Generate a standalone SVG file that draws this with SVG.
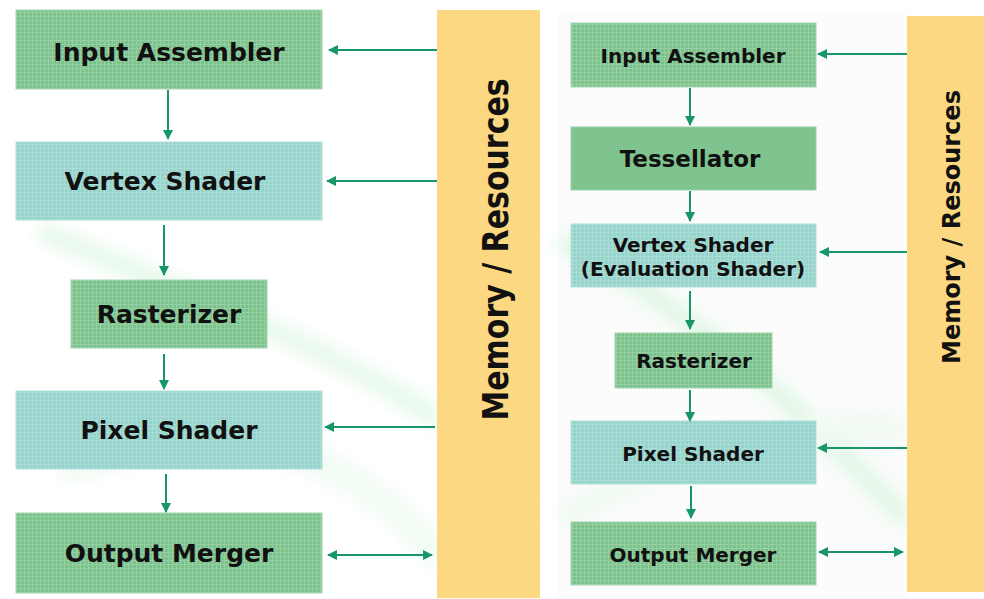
<svg xmlns="http://www.w3.org/2000/svg" width="984" height="599" viewBox="0 0 984 599">
<defs>
<pattern id="gridG" width="4" height="4" patternUnits="userSpaceOnUse">
<rect width="4" height="4" fill="#7cc28d"/>
<path d="M0 0.5H4M0.5 0V4" stroke="#95cfa3" stroke-width="1"/>
</pattern>
<pattern id="gridT" width="4" height="4" patternUnits="userSpaceOnUse">
<rect width="4" height="4" fill="#95d3cc"/>
<path d="M0 0.5H4M0.5 0V4" stroke="#aadcd6" stroke-width="1"/>
</pattern>
<marker id="ah" viewBox="0 0 10 10" refX="9" refY="5" markerWidth="5" markerHeight="5" orient="auto-start-reverse" markerUnits="strokeWidth">
<path d="M0 0L10 5L0 10z" fill="#17966a"/>
</marker>
<filter id="blur" x="-20%" y="-20%" width="140%" height="140%"><feGaussianBlur stdDeviation="8"/></filter>
</defs>
<style>
.g{fill:url(#gridG);stroke:#a3d6b0;stroke-width:1}
.t{fill:url(#gridT);stroke:#b3e0db;stroke-width:1}
.s{fill:#7fc38e;stroke:#9ad0a7;stroke-width:1}
.m{fill:#fdd883}
.lbl{font-family:"DejaVu Sans",Verdana,sans-serif;font-weight:bold;fill:#111;text-anchor:middle}
.c{stroke:#17966a;stroke-width:2;fill:none;marker-end:url(#ah)}
.b{marker-start:url(#ah)}
</style>
<rect width="984" height="599" fill="#ffffff"/>
<rect x="558" y="12" width="350" height="587" fill="#fbfcfb"/>
<g opacity="0.5" filter="url(#blur)">
<path d="M40 230 C150 280 300 330 440 420" stroke="#cdf3d6" stroke-width="20" fill="none"/>
<path d="M60 470 C200 430 330 420 440 560" stroke="#e3f8e8" stroke-width="28" fill="none"/>
<path d="M560 240 C650 290 760 360 906 520" stroke="#c8f2d2" stroke-width="20" fill="none"/>
<path d="M560 520 C680 450 800 420 906 430" stroke="#e5f8e9" stroke-width="24" fill="none"/>
</g>

<g id="mem-left"><rect class="m" x="437" y="10" width="103" height="588"/>
<text class="lbl" transform="translate(508,249.5) rotate(-90) scale(1,1.18)" font-size="30">Memory / Resources</text></g>
<g id="mem-right"><rect class="m" x="907" y="16" width="77" height="576"/>
<text class="lbl" transform="translate(960,227) rotate(-90)" font-size="24">Memory / Resources</text></g>

<g id="l-ia"><rect class="g" x="16" y="10" width="306" height="79"/><text class="lbl" x="169" y="61" font-size="25">Input Assembler</text></g>
<g id="l-vs"><rect class="t" x="16" y="142" width="306" height="78"/><text class="lbl" x="165" y="190" font-size="25">Vertex Shader</text></g>
<g id="l-ra"><rect class="g" x="71" y="280" width="196" height="68"/><text class="lbl" x="169" y="323" font-size="25">Rasterizer</text></g>
<g id="l-ps"><rect class="t" x="16" y="391" width="306" height="78"/><text class="lbl" x="169" y="439" font-size="25">Pixel Shader</text></g>
<g id="l-om"><rect class="g" x="16" y="513" width="306" height="80"/><text class="lbl" x="169" y="562" font-size="25">Output Merger</text></g>

<g id="r-ia"><rect class="g" x="571" y="23" width="245" height="64"/><text class="lbl" x="693" y="63" font-size="20">Input Assembler</text></g>
<g id="r-te"><rect class="s" x="571" y="127" width="245" height="63"/><text class="lbl" x="690" y="167" font-size="23">Tessellator</text></g>
<g id="r-vs"><rect class="t" x="571" y="224" width="245" height="63"/><text class="lbl" x="693" y="252" font-size="20">Vertex Shader</text><text class="lbl" x="693" y="276" font-size="20">(Evaluation Shader)</text></g>
<g id="r-ra"><rect class="g" x="615" y="333" width="157" height="55"/><text class="lbl" x="694" y="368" font-size="20">Rasterizer</text></g>
<g id="r-ps"><rect class="t" x="571" y="421" width="245" height="63"/><text class="lbl" x="693" y="461" font-size="20">Pixel Shader</text></g>
<g id="r-om"><rect class="g" x="571" y="522" width="245" height="63"/><text class="lbl" x="693" y="562" font-size="20">Output Merger</text></g>

<g id="connectors">
<path class="c" d="M168 90V139"/>
<path class="c" d="M164 225V275"/>
<path class="c" d="M164 354V389"/>
<path class="c" d="M166 474V512"/>
<path class="c" d="M437 50H329"/>
<path class="c" d="M437 181H327"/>
<path class="c" d="M435 427H325"/>
<path class="c b" d="M328 555H432"/>
<path class="c" d="M690 88V125"/>
<path class="c" d="M690 191V221"/>
<path class="c" d="M690 291V329"/>
<path class="c" d="M690 390V421"/>
<path class="c" d="M691 486V518"/>
<path class="c" d="M907 54H818"/>
<path class="c" d="M907 252H820"/>
<path class="c" d="M907 448H818"/>
<path class="c b" d="M819 552H903"/>
</g>
</svg>
